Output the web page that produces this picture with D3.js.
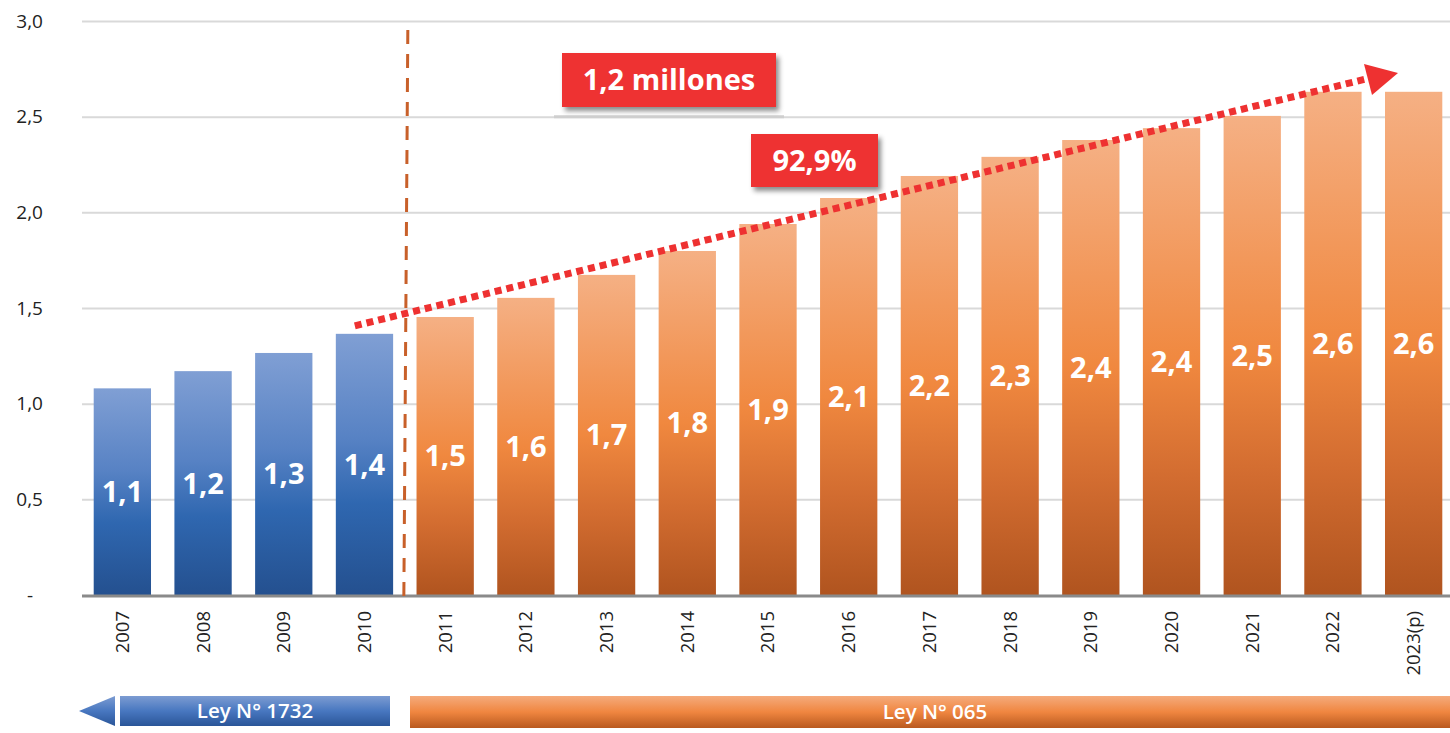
<!DOCTYPE html>
<html lang="es">
<head>
<meta charset="UTF-8">
<title>Crecimiento</title>
<script src="https://d3js.org/d3.v7.min.js"></script>
<style>
	body { margin: 0; background: #fff; }
	svg { display: block; font-family: "Open Sans", sans-serif; }
	.grid line { stroke: #d9d9d9; stroke-width: 2; }
	.grid .domain { display: none; }
	text.ytick { font-size: 19px; fill: #222; }
	text.xlab { font-size: 18.5px; fill: #222; }
	text.val { font-size: 29px; font-weight: 700; fill: #fff; }
	text.band { font-size: 20.5px; font-weight: 600; fill: #fff; }
</style>
</head>
<body>
<div id="chart"></div>
<script>
	// data (millones)
	var years = ["2007", "2008", "2009", "2010", "2011", "2012", "2013", "2014", "2015",
		"2016", "2017", "2018", "2019", "2020", "2021", "2022", "2023(p)"];
	var values = [1.08, 1.17, 1.265, 1.365, 1.453, 1.553, 1.673, 1.798, 1.939,
		2.075, 2.19, 2.29, 2.378, 2.44, 2.504, 2.63, 2.63];
	var labels = ["1,1", "1,2", "1,3", "1,4", "1,5", "1,6", "1,7", "1,8", "1,9",
		"2,1", "2,2", "2,3", "2,4", "2,4", "2,5", "2,6", "2,6"];
	var yTicks = [0, 0.5, 1, 1.5, 2, 2.5, 3];
	var yTickLabels = ["-", "0,5", "1,0", "1,5", "2,0", "2,5", "3,0"];
	var lastOldLaw = "2010"; // Ley N° 1732 until here

	var W = 1450, H = 733;
	var svg = d3.select("#chart").append("svg").attr("width", W).attr("height", H);

	var x = d3.scaleBand().domain(years).range([82, 1454]).paddingInner(0.29).paddingOuter(0.145);
	var y = d3.scaleLinear().domain([0, 3]).range([595, 21]);

	var defs = svg.append("defs");
	function grad(id, stops) {
		var g = defs.append("linearGradient").attr("id", id)
			.attr("x1", 0).attr("y1", 0).attr("x2", 0).attr("y2", 1);
		stops.forEach(function (s) {
			g.append("stop").attr("offset", s[0]).attr("stop-color", s[1]);
		});
	}
	grad("gBlue", [[0, "#809fd4"], [0.4, "#5782c4"], [0.65, "#2f67b0"], [1, "#24508f"]]);
	grad("gOrange", [[0, "#f5b084"], [0.5, "#f0883f"], [0.75, "#d26c30"], [1, "#b0541f"]]);
	grad("gBandBlue", [[0, "#7c9cd2"], [0.5, "#4877c0"], [1, "#2a5598"]]);
	grad("gBandOrange", [[0, "#f5ab7c"], [0.5, "#f08640"], [1, "#b9591f"]]);

	var shadow = defs.append("filter").attr("id", "shadow")
		.attr("x", "-10%").attr("y", "-20%").attr("width", "130%").attr("height", "160%");
	shadow.append("feDropShadow").attr("dx", 3).attr("dy", 4).attr("stdDeviation", 2.5)
		.attr("flood-color", "#000").attr("flood-opacity", 0.45);

	var oldIdx = years.indexOf(lastOldLaw);

	// gridlines
	svg.append("g").attr("class", "grid")
		.attr("transform", "translate(82,0)")
		.call(d3.axisRight(y).tickValues(yTicks.slice(1)).tickSize(1450 - 82).tickFormat(""));

	// y tick labels
	svg.append("g").selectAll("text").data(yTicks).join("text")
		.attr("class", "ytick")
		.attr("x", function (d) { return d === 0 ? 33 : 43; })
		.attr("y", function (d) { return y(d); })
		.attr("dy", "0.35em")
		.attr("text-anchor", "end")
		.text(function (d, i) { return yTickLabels[i]; });

	// bars
	svg.append("g").selectAll("rect").data(values).join("rect")
		.attr("x", function (d, i) { return x(years[i]); })
		.attr("y", function (d) { return y(d); })
		.attr("width", x.bandwidth())
		.attr("height", function (d) { return y(0) - y(d); })
		.attr("fill", function (d, i) { return i <= oldIdx ? "url(#gBlue)" : "url(#gOrange)"; });

	// value labels
	svg.append("g").selectAll("text").data(values).join("text")
		.attr("class", "val")
		.attr("x", function (d, i) { return x(years[i]) + x.bandwidth() / 2; })
		.attr("y", function (d) { return (y(d) + y(0)) / 2; })
		.attr("dy", "0.36em")
		.attr("text-anchor", "middle")
		.text(function (d, i) { return labels[i]; });

	// base axis line
	svg.append("line")
		.attr("x1", 82).attr("x2", 1450).attr("y1", y(0) + 1).attr("y2", y(0) + 1)
		.attr("stroke", "#8a8a8a").attr("stroke-width", 3);

	// x labels
	svg.append("g").selectAll("text").data(years).join("text")
		.attr("class", "xlab")
		.attr("transform", function (d) {
			return "translate(" + (x(d) + x.bandwidth() / 2) + ",611) rotate(-90)";
		})
		.attr("dy", "0.35em")
		.attr("text-anchor", "end")
		.text(function (d) { return d; });

	// divider between laws
	var divX = (x(years[oldIdx]) + x.bandwidth() + x(years[oldIdx + 1])) / 2 + 2;
	svg.append("line")
		.attr("x1", divX + 1).attr("x2", divX - 3).attr("y1", 30).attr("y2", 600)
		.attr("stroke", "#c8602a").attr("stroke-width", 3).attr("stroke-dasharray", "14 10");

	// trend arrow
	var a0 = [x(years[oldIdx]) + 19, y(values[oldIdx]) - 8];
	var a1 = [1366, 79];
	svg.append("line")
		.attr("x1", a0[0]).attr("y1", a0[1]).attr("x2", a1[0]).attr("y2", a1[1])
		.attr("stroke", "#ee3131").attr("stroke-width", 7).attr("stroke-dasharray", "7 5");
	svg.append("path")
		.attr("d", "M1364,64 L1398,73 L1372,95 Z")
		.attr("fill", "#ee3131");

	// callout boxes
	function callout(x0, y0, w, h, txt) {
		var g = svg.append("g");
		g.append("rect").attr("x", x0).attr("y", y0).attr("width", w).attr("height", h)
			.attr("fill", "#ee3131").attr("filter", "url(#shadow)");
		g.append("text").attr("x", x0 + w / 2).attr("y", y0 + h / 2).attr("dy", "0.36em")
			.attr("text-anchor", "middle").attr("fill", "#fff")
			.attr("font-size", "29px").attr("font-weight", 700).text(txt);
	}
	svg.append("line").attr("x1", 554).attr("x2", 784).attr("y1", y(2.5)).attr("y2", y(2.5))
		.attr("stroke", "#cfcfcf").attr("stroke-width", 3);
	callout(562, 53, 214, 54, "1,2 millones");
	callout(751, 134, 127, 53, "92,9%");

	// law bands
	svg.append("path").attr("d", "M79,711 L115,696 L115,726 Z").attr("fill", "url(#gBandBlue)");
	svg.append("rect").attr("x", 120).attr("y", 696).attr("width", 270).attr("height", 30)
		.attr("fill", "url(#gBandBlue)");
	svg.append("text").attr("class", "band").attr("x", 255).attr("y", 711).attr("dy", "0.36em")
		.attr("text-anchor", "middle").text("Ley N° 1732");
	svg.append("rect").attr("x", 410).attr("y", 696).attr("width", 1040).attr("height", 32)
		.attr("fill", "url(#gBandOrange)");
	svg.append("text").attr("class", "band").attr("x", 935).attr("y", 712).attr("dy", "0.36em")
		.attr("text-anchor", "middle").text("Ley N° 065");
</script>
</body>
</html>
